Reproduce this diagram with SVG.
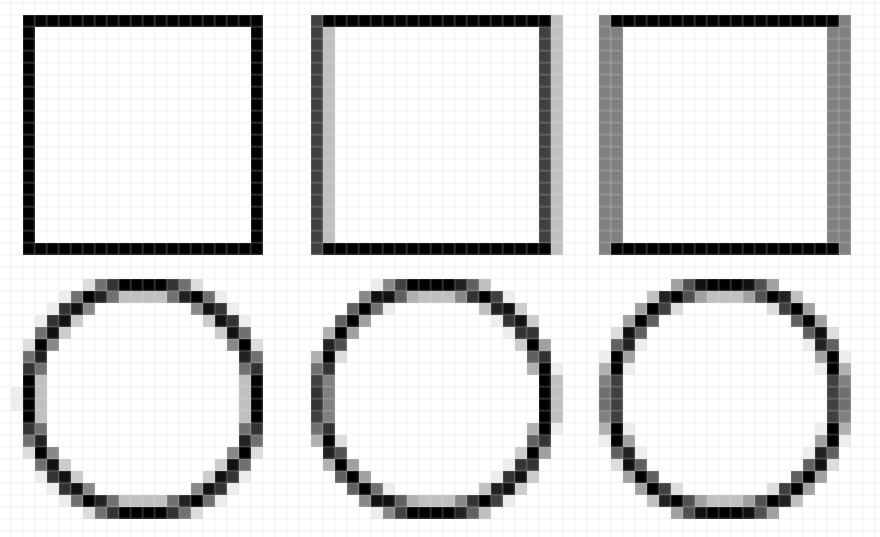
<svg xmlns="http://www.w3.org/2000/svg" width="880" height="537" viewBox="0 0 880 537">
<style>
.k{fill:#000}.g1{fill:#111}.g2{fill:#222}.g3{fill:#333}.g4{fill:#404040}.g5{fill:#505050}.g6{fill:#606060}.g7{fill:#707070}.g8{fill:#808080}.g88{fill:#888}.ga{fill:#a0a0a0}.gb{fill:#b0b0b0}.gc{fill:#c0c0c0}.gcc{fill:#ccc}.gd{fill:#ddd}.ge{fill:#eee}
.cells{shape-rendering:crispEdges}
</style>
<defs>
<pattern id="gridp" patternUnits="userSpaceOnUse" x="-7.333" y="-3.333" width="12" height="12">
<path d="M6 0V12M0 6H12" fill="none" stroke="#d8d8d8" stroke-width="1"/>
</pattern>
</defs>
<rect x="0" y="0" width="880" height="537" fill="#fff"/>
<g class="cells" transform="translate(-1.333 2.667) scale(12)">
<g id="square-1">
<rect x="2" y="1" width="20" height="1" class="k"/>
<rect x="2" y="20" width="20" height="1" class="k"/>
<rect x="2" y="2" width="1" height="18" class="k"/>
<rect x="21" y="2" width="1" height="18" class="k"/>
</g>
<g id="square-2">
<rect x="26" y="1" width="1" height="20" class="g4"/>
<rect x="46" y="1" width="1" height="20" class="gc"/>
<rect x="27" y="1" width="19" height="1" class="k"/>
<rect x="27" y="20" width="19" height="1" class="k"/>
<rect x="27" y="2" width="1" height="18" class="gc"/>
<rect x="45" y="2" width="1" height="18" class="g4"/>
</g>
<g id="square-3">
<rect x="50" y="1" width="1" height="20" class="g8"/>
<rect x="70" y="1" width="1" height="20" class="g8"/>
<rect x="51" y="1" width="19" height="1" class="k"/>
<rect x="51" y="20" width="19" height="1" class="k"/>
<rect x="51" y="2" width="1" height="18" class="g8"/>
<rect x="69" y="2" width="1" height="18" class="g8"/>
</g>
<g id="circle-1">
<g id="c1q">
<rect x="7" y="23" width="1" height="1" class="gd"/>
<rect x="8" y="23" width="1" height="1" class="g7"/>
<rect x="9" y="23" width="1" height="1" class="g3"/>
<rect x="10" y="23" width="2" height="1" class="k"/>
<rect x="5" y="24" width="1" height="1" class="ge"/>
<rect x="6" y="24" width="1" height="1" class="g7"/>
<rect x="7" y="24" width="1" height="1" class="k"/>
<rect x="8" y="24" width="1" height="1" class="g2"/>
<rect x="9" y="24" width="1" height="1" class="g7"/>
<rect x="10" y="24" width="2" height="1" class="gc"/>
<rect x="4" y="25" width="1" height="1" class="ge"/>
<rect x="5" y="25" width="1" height="1" class="g3"/>
<rect x="6" y="25" width="1" height="1" class="g1"/>
<rect x="7" y="25" width="1" height="1" class="g88"/>
<rect x="3" y="26" width="1" height="1" class="ge"/>
<rect x="4" y="26" width="1" height="1" class="g3"/>
<rect x="5" y="26" width="1" height="1" class="g1"/>
<rect x="6" y="26" width="1" height="1" class="gcc"/>
<rect x="3" y="27" width="1" height="1" class="g7"/>
<rect x="4" y="27" width="1" height="1" class="g1"/>
<rect x="5" y="27" width="1" height="1" class="gcc"/>
<rect x="2" y="28" width="1" height="1" class="gd"/>
<rect x="3" y="28" width="1" height="1" class="k"/>
<rect x="4" y="28" width="1" height="1" class="g88"/>
<rect x="2" y="29" width="1" height="1" class="g7"/>
<rect x="3" y="29" width="1" height="1" class="g2"/>
<rect x="2" y="30" width="1" height="1" class="g3"/>
<rect x="3" y="30" width="1" height="1" class="g7"/>
<rect x="2" y="31" width="1" height="2" class="k"/>
<rect x="3" y="31" width="1" height="2" class="gc"/>
</g>
<use href="#c1q" transform="translate(24 0) scale(-1 1)"/>
<use href="#c1q" transform="translate(0 66) scale(1 -1)"/>
<use href="#c1q" transform="translate(24 66) scale(-1 -1)"/>
<rect x="1" y="32" width="1" height="2" class="ge"/>
</g>
<g id="circle-2">
<g id="c2h">
<rect x="31" y="23" width="1" height="1" class="ge"/>
<rect x="32" y="23" width="1" height="1" class="g88"/>
<rect x="33" y="23" width="1" height="1" class="g4"/>
<rect x="34" y="23" width="4" height="1" class="k"/>
<rect x="38" y="23" width="1" height="1" class="g2"/>
<rect x="39" y="23" width="1" height="1" class="g6"/>
<rect x="40" y="23" width="1" height="1" class="gc"/>
<rect x="30" y="24" width="1" height="1" class="g88"/>
<rect x="31" y="24" width="2" height="1" class="g1"/>
<rect x="33" y="24" width="1" height="1" class="g6"/>
<rect x="34" y="24" width="1" height="1" class="gb"/>
<rect x="35" y="24" width="3" height="1" class="gc"/>
<rect x="38" y="24" width="1" height="1" class="g88"/>
<rect x="39" y="24" width="1" height="1" class="g3"/>
<rect x="40" y="24" width="1" height="1" class="k"/>
<rect x="41" y="24" width="1" height="1" class="g4"/>
<rect x="42" y="24" width="1" height="1" class="ge"/>
<rect x="29" y="25" width="1" height="1" class="g6"/>
<rect x="30" y="25" width="1" height="1" class="k"/>
<rect x="31" y="25" width="1" height="1" class="g7"/>
<rect x="32" y="25" width="1" height="1" class="ge"/>
<rect x="40" y="25" width="1" height="1" class="gc"/>
<rect x="41" y="25" width="1" height="1" class="g2"/>
<rect x="42" y="25" width="1" height="1" class="g1"/>
<rect x="43" y="25" width="1" height="1" class="gcc"/>
<rect x="28" y="26" width="1" height="1" class="g6"/>
<rect x="29" y="26" width="1" height="1" class="k"/>
<rect x="30" y="26" width="1" height="1" class="ga"/>
<rect x="41" y="26" width="1" height="1" class="ge"/>
<rect x="42" y="26" width="1" height="1" class="g3"/>
<rect x="43" y="26" width="1" height="1" class="g1"/>
<rect x="44" y="26" width="1" height="1" class="gcc"/>
<rect x="27" y="27" width="1" height="1" class="gb"/>
<rect x="28" y="27" width="1" height="1" class="k"/>
<rect x="29" y="27" width="1" height="1" class="ga"/>
<rect x="42" y="27" width="1" height="1" class="ge"/>
<rect x="43" y="27" width="2" height="1" class="g3"/>
<rect x="27" y="28" width="1" height="1" class="g2"/>
<rect x="28" y="28" width="1" height="1" class="g5"/>
<rect x="43" y="28" width="1" height="1" class="gcc"/>
<rect x="44" y="28" width="1" height="1" class="k"/>
<rect x="45" y="28" width="1" height="1" class="ga"/>
<rect x="26" y="29" width="1" height="1" class="gb"/>
<rect x="27" y="29" width="1" height="1" class="k"/>
<rect x="28" y="29" width="1" height="1" class="gd"/>
<rect x="44" y="29" width="1" height="1" class="g6"/>
<rect x="45" y="29" width="1" height="1" class="g3"/>
<rect x="26" y="30" width="1" height="1" class="g7"/>
<rect x="27" y="30" width="1" height="1" class="g3"/>
<rect x="44" y="30" width="1" height="1" class="gb"/>
<rect x="45" y="30" width="1" height="1" class="k"/>
<rect x="46" y="30" width="1" height="1" class="ge"/>
<rect x="26" y="31" width="1" height="1" class="g4"/>
<rect x="26" y="32" width="1" height="1" class="g3"/>
<rect x="27" y="31" width="1" height="2" class="g8"/>
<rect x="45" y="31" width="1" height="2" class="k"/>
<rect x="46" y="31" width="1" height="2" class="gc"/>
</g>
<use href="#c2h" transform="translate(0 66) scale(1 -1)"/>
</g>
<g id="circle-3">
<g id="c3q">
<rect x="56" y="23" width="1" height="1" class="ga"/>
<rect x="57" y="23" width="1" height="1" class="g5"/>
<rect x="58" y="23" width="1" height="1" class="g1"/>
<rect x="59" y="23" width="2" height="1" class="k"/>
<rect x="54" y="24" width="1" height="1" class="gc"/>
<rect x="55" y="24" width="1" height="1" class="g2"/>
<rect x="56" y="24" width="1" height="1" class="k"/>
<rect x="57" y="24" width="1" height="1" class="g5"/>
<rect x="58" y="24" width="1" height="1" class="ga"/>
<rect x="59" y="24" width="2" height="1" class="gc"/>
<rect x="53" y="25" width="1" height="1" class="ga"/>
<rect x="54" y="25" width="1" height="1" class="k"/>
<rect x="55" y="25" width="1" height="1" class="g4"/>
<rect x="56" y="25" width="1" height="1" class="gd"/>
<rect x="52" y="26" width="1" height="1" class="ga"/>
<rect x="53" y="26" width="1" height="1" class="k"/>
<rect x="54" y="26" width="1" height="1" class="g6"/>
<rect x="51" y="27" width="1" height="1" class="gd"/>
<rect x="52" y="27" width="1" height="1" class="g1"/>
<rect x="53" y="27" width="1" height="1" class="g6"/>
<rect x="51" y="28" width="1" height="1" class="g6"/>
<rect x="52" y="28" width="1" height="1" class="g2"/>
<rect x="53" y="28" width="1" height="1" class="ge"/>
<rect x="50" y="29" width="1" height="1" class="ge"/>
<rect x="51" y="29" width="1" height="1" class="k"/>
<rect x="52" y="29" width="1" height="1" class="ga"/>
<rect x="50" y="30" width="1" height="1" class="gb"/>
<rect x="51" y="30" width="1" height="1" class="k"/>
<rect x="52" y="30" width="1" height="1" class="ge"/>
<rect x="50" y="31" width="1" height="1" class="g8"/>
<rect x="50" y="32" width="1" height="1" class="g7"/>
<rect x="51" y="31" width="1" height="2" class="g4"/>
</g>
<use href="#c3q" transform="translate(121 0) scale(-1 1)"/>
<use href="#c3q" transform="translate(0 66) scale(1 -1)"/>
<use href="#c3q" transform="translate(121 66) scale(-1 -1)"/>
</g>
</g>
<rect id="grid" x="0" y="0" width="880" height="537" fill="url(#gridp)" opacity="0.4"/>
</svg>
